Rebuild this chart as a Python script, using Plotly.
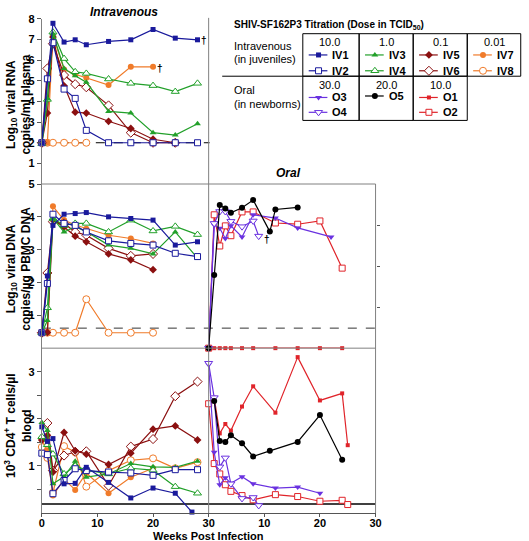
import plotly.graph_objects as go

W, H = 529, 541

# ---------------- data ----------------
# Intravenous: log10 viral RNA copies/ml plasma
iv1_rna_wk = [0, 2, 4, 6, 8, 12, 16, 20, 24, 28]
iv1_rna = [2.0, 7.79, 6.88, 6.99, 6.75, 6.91, 6.99, 7.49, 7.07, 6.99]
iv2_rna_wk = [0, 1, 2, 4, 6, 8, 12, 16, 20, 24, 28]
iv2_rna = [2.0, 5.1, 6.85, 4.6, 4.15, 2.6, 2.0, 2.0, 2.0, 2.0, 2.0]
iv3_rna_wk = [0, 1, 2, 4, 6, 8, 12, 16, 20, 24, 28]
iv3_rna = [1.96, 4.13, 7.28, 5.6, 5.25, 4.93, 3.52, 3.44, 2.49, 2.37, 2.92]
iv4_rna_wk = [0, 1, 2, 4, 6, 8, 12, 16, 20, 24, 28]
iv4_rna = [1.96, 4.1, 7.36, 6.08, 5.44, 5.36, 5.09, 4.88, 4.77, 4.48, 4.88]
iv5_rna_wk = [0, 1, 2, 4, 6, 8, 12, 16, 20, 24]
iv5_rna = [2.0, 3.44, 7.12, 4.76, 3.48, 3.44, 3.04, 2.69, 2.17, 2.0]
iv6_rna_wk = [0, 1, 2, 4, 6, 8, 12, 16, 20, 24]
iv6_rna = [2.0, 5.6, 6.8, 5.28, 4.84, 4.69, 3.81, 2.49, 2.0, 2.0]
iv7_rna_wk = [0, 1, 2, 4, 6, 8, 12, 16, 20]
iv7_rna = [2.0, 2.0, 7.2, 5.55, 5.32, 5.15, 4.8, 5.68, 5.68]
iv8_rna_wk = [0, 1, 2, 4, 6, 8]
iv8_rna = [2.0, 2.0, 2.0, 2.0, 2.0, 2.0]

# Intravenous: log10 viral DNA copies/ug PBMC DNA
iv1_dna_wk = [0, 1, 2, 4, 6, 8, 12, 16, 20, 24, 28]
iv1_dna = [0.47, 2.2, 3.74, 4.08, 4.1, 4.13, 4.0, 3.95, 3.9, 3.14, 3.24]
iv2_dna_wk = [0, 1, 2, 4, 6, 8, 12, 16, 20, 24, 28]
iv2_dna = [0.47, 1.97, 4.08, 3.8, 3.74, 3.54, 3.27, 3.19, 3.14, 2.89, 2.79]
iv3_dna_wk = [0, 1, 2, 4, 6, 8, 12, 16, 20, 24, 28]
iv3_dna = [0.47, 0.84, 3.95, 3.54, 3.7, 3.55, 3.14, 3.04, 2.87, 3.54, 2.74]
iv4_dna_wk = [0, 1, 2, 4, 6, 8, 12, 16, 20, 24, 28]
iv4_dna = [0.47, 1.23, 3.95, 3.74, 3.8, 3.8, 3.54, 3.9, 3.57, 3.71, 3.46]
iv5_dna_wk = [0, 1, 2, 4, 6, 8, 12, 16, 20]
iv5_dna = [0.47, 0.48, 3.9, 3.69, 3.41, 3.24, 2.87, 2.69, 2.39]
iv6_dna_wk = [0, 1, 2, 4, 6, 8, 12, 16, 20]
iv6_dna = [0.47, 2.29, 3.85, 3.8, 3.54, 3.44, 3.04, 2.81, 2.87]
iv7_dna_wk = [0, 1, 2, 4, 6, 8, 12, 16, 20]
iv7_dna = [0.47, 0.47, 4.32, 3.9, 3.75, 3.64, 3.44, 3.34, 3.19]
iv8_dna_wk = [0, 1, 2, 4, 6, 8, 12, 16, 20]
iv8_dna = [0.47, 0.47, 0.47, 0.47, 0.47, 1.49, 0.47, 0.47, 0.47]

# Oral: viral DNA (right-hand scale 0-4)
o1_dna_wk = [0, 1, 2, 3, 4, 6, 8, 12, 16, 20, 24]
o1_dna = [0, 0, 0, 0, 0, 0, 0, 0, 0, 0, 0]
o2_dna_wk = [0, 1, 2, 3, 4, 6, 8, 12, 16, 20, 24]
o2_dna = [0, 3.25, 2.49, 2.98, 2.74, 3.32, 3.32, 3.05, 3.02, 3.1, 1.95]
o3_dna_wk = [0, 1, 2, 3, 4, 6, 8, 12, 16, 22]
o3_dna = [0, 3.0, 2.92, 2.67, 2.98, 2.71, 3.25, 3.17, 2.93, 2.71]
o4_dna_wk = [0, 1, 2, 3, 4, 6, 8, 9]
o4_dna = [0, 3.04, 3.33, 3.33, 3.09, 2.96, 3.1, 2.73]
o5_dna_wk = [0, 1, 2, 3, 4, 6, 8, 11, 12, 16]
o5_dna = [0, 1.78, 3.49, 3.4, 3.3, 3.42, 3.61, 2.84, 3.38, 3.43]

# CD4+ T cells (10^3 / ul blood)
iv1_cd4_wk = [0, 1, 2, 4, 6, 8, 12, 16, 20, 24, 27]
iv1_cd4 = [1.83, 1.52, 1.58, 0.62, 0.63, 0.97, 0.65, 0.32, 0.53, 0.42, 0.02]
iv2_cd4_wk = [0, 1, 2, 4, 6, 8, 12, 16, 20, 24, 28]
iv2_cd4 = [1.27, 1.24, 0.41, 0.69, 0.94, 0.9, 0.87, 0.85, 0.8, 0.92, 0.92]
iv3_cd4_wk = [0, 1, 2, 4, 6, 8, 12, 16, 20, 24, 28]
iv3_cd4 = [1.92, 1.75, 0.62, 0.77, 1.1, 0.76, 0.83, 1.05, 0.98, 0.97, 1.1]
iv4_cd4_wk = [0, 1, 2, 4, 6, 8, 12, 16, 20, 24, 28]
iv4_cd4 = [1.62, 1.45, 1.25, 0.83, 1.0, 0.91, 0.83, 0.95, 0.91, 0.56, 0.42]
iv5_cd4_wk = [0, 1, 2, 4, 6, 8, 12, 16, 20, 24, 28]
iv5_cd4 = [1.55, 1.65, 0.87, 1.71, 1.32, 1.25, 1.03, 1.27, 1.78, 1.85, 1.55]
iv6_cd4_wk = [1, 2, 4, 6, 8, 12, 16, 20, 24, 28]
iv6_cd4 = [1.91, 0.9, 1.22, 1.3, 1.31, 0.58, 1.41, 1.57, 2.48, 2.79]
iv7_cd4_wk = [0, 1, 2, 4, 6, 8, 12, 16, 20]
iv7_cd4 = [1.55, 1.33, 0.37, 0.72, 0.49, 0.85, 0.42, 0.76, 0.95]
iv8_cd4_wk = [0, 1, 2, 4, 6, 8, 12, 16, 20, 24, 28]
iv8_cd4 = [1.4, 1.17, 0.43, 1.42, 1.29, 0.56, 0.9, 1.12, 1.16, 0.95, 1.08]

o1_cd4_wk = [1, 2, 3, 4, 6, 8, 12, 16, 20, 24, 25]
o1_cd4 = [2.45, 1.69, 1.89, 1.75, 2.26, 2.69, 2.13, 3.31, 2.39, 2.54, 1.44]
o2_cd4_wk = [0, 1, 2, 3, 4, 6, 8, 12, 16, 20, 24, 25]
o2_cd4 = [2.32, 1.05, 0.83, 0.6, 0.46, 0.37, 0.28, 0.39, 0.35, 0.25, 0.27, 0.18]
o3_cd4_wk = [0, 1, 2, 3, 4, 6, 8, 12, 16, 20]
o3_cd4 = [3.15, 1.29, 0.6, 0.75, 0.63, 0.77, 0.62, 0.53, 0.55, 0.42]
o4_cd4_wk = [0, 1, 2, 3, 4, 6, 8, 9]
o4_cd4 = [3.18, 2.45, 0.98, 1.17, 0.62, 0.31, 0.33, 0.16]
o5_cd4_wk = [1, 2, 3, 4, 6, 8, 11, 16, 20, 24]
o5_cd4 = [2.38, 1.53, 1.51, 1.65, 1.48, 1.2, 1.32, 1.51, 2.08, 1.13]

# thresholds
rna_cutoff = 2.0
dna_cutoff = 0.61
cd4_line = 0.19

# legend table text
doses_iv = ["10.0", "1.0", "0.1", "0.01"]
doses_oral = ["30.0", "20.0", "10.0"]
legend_iv = [["IV1", "IV2"], ["IV3", "IV4"], ["IV5", "IV6"], ["IV7", "IV8"]]
legend_oral = [["O3", "O4"], ["O5"], ["O1", "O2"]]

# ---------------- styling ----------------
BLUE = "#1a1a9c"
GREEN = "#22a02a"
DRED = "#8b1010"
ORANGE = "#f07b2a"
PURPLE = "#6a32e0"
BLACK = "#000000"
RED = "#e0242a"

styles = {
    "IV1": (BLUE, "square", False, 5), "IV2": (BLUE, "square", True, 6),
    "IV3": (GREEN, "triangle-up", False, 6), "IV4": (GREEN, "triangle-up", True, 7),
    "IV5": (DRED, "diamond", False, 6), "IV6": (DRED, "diamond", True, 7),
    "IV7": (ORANGE, "circle", False, 6), "IV8": (ORANGE, "circle", True, 7),
    "O1": (RED, "square", False, 4), "O2": (RED, "square", True, 6),
    "O3": (PURPLE, "triangle-down", False, 6), "O4": (PURPLE, "triangle-down", True, 7),
    "O5": (BLACK, "circle", False, 6),
}

FONT = "Arial, Liberation Sans, sans-serif"
AXC = "#808080"

def X(p):
    return p / W

def Y(p):
    return 1 - p / H

XL0, XMID, XR1 = 39.5, 209.2, 379.0
YT, YA, YB, YBOT = 13.1, 180.0, 346.0, 512.7

fig = go.Figure()

def marker_for(name):
    c, sym, op, sz = styles[name]
    if op:
        return dict(symbol=sym, size=sz, color="white", line=dict(color=c, width=1))
    return dict(symbol=sym, size=sz, color=c, line=dict(width=0))

def add(name, wk, vals, xa, ya):
    c = styles[name][0]
    fig.add_trace(go.Scatter(x=wk, y=vals, xaxis=xa, yaxis=ya, mode="lines+markers",
                             line=dict(color=c, width=1.2), marker=marker_for(name),
                             showlegend=False, cliponaxis=False, hoverinfo="skip"))

rna = {"IV8": (iv8_rna_wk, iv8_rna), "IV7": (iv7_rna_wk, iv7_rna), "IV6": (iv6_rna_wk, iv6_rna),
       "IV5": (iv5_rna_wk, iv5_rna), "IV4": (iv4_rna_wk, iv4_rna), "IV3": (iv3_rna_wk, iv3_rna),
       "IV2": (iv2_rna_wk, iv2_rna), "IV1": (iv1_rna_wk, iv1_rna)}
dna = {"IV8": (iv8_dna_wk, iv8_dna), "IV7": (iv7_dna_wk, iv7_dna), "IV6": (iv6_dna_wk, iv6_dna),
       "IV5": (iv5_dna_wk, iv5_dna), "IV4": (iv4_dna_wk, iv4_dna), "IV3": (iv3_dna_wk, iv3_dna),
       "IV2": (iv2_dna_wk, iv2_dna), "IV1": (iv1_dna_wk, iv1_dna)}
cd4 = {"IV8": (iv8_cd4_wk, iv8_cd4), "IV7": (iv7_cd4_wk, iv7_cd4), "IV6": (iv6_cd4_wk, iv6_cd4),
       "IV5": (iv5_cd4_wk, iv5_cd4), "IV4": (iv4_cd4_wk, iv4_cd4), "IV3": (iv3_cd4_wk, iv3_cd4),
       "IV2": (iv2_cd4_wk, iv2_cd4), "IV1": (iv1_cd4_wk, iv1_cd4)}
odna = {"O1": (o1_dna_wk, o1_dna), "O2": (o2_dna_wk, o2_dna), "O3": (o3_dna_wk, o3_dna),
        "O4": (o4_dna_wk, o4_dna), "O5": (o5_dna_wk, o5_dna)}
ocd4 = {"O1": (o1_cd4_wk, o1_cd4), "O2": (o2_cd4_wk, o2_cd4), "O3": (o3_cd4_wk, o3_cd4),
        "O4": (o4_cd4_wk, o4_cd4), "O5": (o5_cd4_wk, o5_cd4)}

for k, (w, v) in rna.items():
    add(k, w, v, "x", "y")
for k, (w, v) in dna.items():
    add(k, w, v, "x", "y2")
for k, (w, v) in cd4.items():
    add(k, w, v, "x", "y3")
for k, (w, v) in odna.items():
    add(k, w, v, "x2", "y4")
for k, (w, v) in ocd4.items():
    add(k, w, v, "x2", "y3")

# legend glyphs on a pixel overlay axis
col_left = [305.0, 362.3, 417.3, 472.3]
row_iv_y = [49.5, 65.5]
row_or_y = [92.5, 107.5]

def glyph(name, cx, cy):
    c = styles[name][0]
    fig.add_trace(go.Scatter(x=[cx + 6, cx + 16, cx + 25], y=[cy, cy, cy], xaxis="x9", yaxis="y9",
                             mode="lines", line=dict(color=c, width=1.2), showlegend=False,
                             hoverinfo="skip"))
    m = marker_for(name)
    fig.add_trace(go.Scatter(x=[cx + 16], y=[cy], xaxis="x9", yaxis="y9", mode="markers",
                             marker=m, showlegend=False, hoverinfo="skip", cliponaxis=False))

annotations = []

def txt(s, x, y, size=11, bold=False, italic=False, xanchor="left", angle=0, color="black"):
    if bold:
        s = "<b>" + s + "</b>"
    if italic:
        s = "<i>" + s + "</i>"
    annotations.append(dict(text=s, x=X(x), y=Y(y), xref="paper", yref="paper", showarrow=False,
                            xanchor=xanchor, yanchor="middle", textangle=angle,
                            font=dict(family=FONT, size=size, color=color)))

for ci, names in enumerate(legend_iv):
    cx = col_left[ci]
    txt(doses_iv[ci], cx + 27.5, 36.5, xanchor="center")
    for ri, n in enumerate(names):
        glyph(n, cx, row_iv_y[ri])
        txt(n, cx + 28, row_iv_y[ri], bold=True)
for ci, names in enumerate(legend_oral):
    cx = col_left[ci]
    txt(doses_oral[ci], cx + 27.5, 80, xanchor="center")
    for ri, n in enumerate(names):
        yy = row_or_y[ri] - (1.5 if len(names) == 1 else 0)
        glyph(n, cx, yy)
        txt(n, cx + 28, yy, bold=True)

txt("SHIV-SF162P3 Titration (Dose in TCID<sub>50</sub>)", 233, 19, size=10, bold=True)
txt("Intravenous", 233, 40)
txt("(in juveniles)", 233, 54)
txt("Oral", 233, 85)
txt("(in newborns)", 233, 99)

# panel titles
txt("Intravenous", 123, 6.5, size=12, bold=True, italic=True, xanchor="center")
txt("Oral", 290, 169, size=12, bold=True, italic=True, xanchor="center")
txt("Weeks Post Infection", 209, 535.5, size=11, bold=True, xanchor="center")

# y-axis titles (two lines each)
txt("Log<sub>10</sub> viral RNA<br>copies/ml plasma", 16, 100, size=12, bold=True,
    xanchor="center", angle=-90)
txt("Log<sub>10</sub> viral DNA<br>copies/µg PBMC DNA", 16, 266, size=12, bold=True,
    xanchor="center", angle=-90)
txt("10<sup>3</sup> CD4<sup>+</sup> T cells/µl<br>blood", 16, 424, size=12, bold=True,
    xanchor="center", angle=-90)

# daggers
txt("†", 199, 35, size=10, bold=True)
txt("†", 155, 63, size=10, bold=True)
txt("†", 263, 236, size=10, bold=True)

shapes = []

def pline(x0, y0, x1, y1, color=AXC, width=1, dash="solid", layer="above"):
    shapes.append(dict(type="line", xref="paper", yref="paper", x0=X(x0), y0=Y(y0), x1=X(x1), y1=Y(y1),
                       line=dict(color=color, width=width, dash=dash), layer=layer))

pline(XMID, 12, XMID, YBOT)
pline(XR1, YA, XR1, YBOT)
pline(XL0, YA, XR1, YA)
pline(XL0, YB, XR1, YB)

shapes.append(dict(type="line", xref="paper", yref="y", x0=X(XL0), x1=X(XMID + 1), y0=rna_cutoff, y1=rna_cutoff,
                   line=dict(color="black", width=1, dash="dash"), layer="below"))
shapes.append(dict(type="line", xref="paper", yref="y2", x0=X(XL0), x1=X(XR1), y0=dna_cutoff, y1=dna_cutoff,
                   line=dict(color="#333333", width=1, dash="dash"), layer="below"))
shapes.append(dict(type="line", xref="paper", yref="y3", x0=X(XL0), x1=X(XR1), y0=cd4_line, y1=cd4_line,
                   line=dict(color="black", width=1.5), layer="below"))

# legend table
for i in range(4):
    shapes.append(dict(type="rect", xref="paper", yref="paper", x0=X(col_left[i]),
                       x1=X(col_left[i + 1] if i < 3 else 526.7), y0=Y(28), y1=Y(71),
                       line=dict(color="black", width=1)))
for i in range(3):
    shapes.append(dict(type="rect", xref="paper", yref="paper", x0=X(col_left[i]),
                       x1=X(col_left[i + 1]), y0=Y(71), y1=Y(115.7),
                       line=dict(color="black", width=1)))
pline(223, 71, 305, 71, color="black")

tickf = dict(family=FONT, size=11, color="black", weight="bold")
common_x = dict(range=[0, 30], showgrid=False, zeroline=False, showline=True, linecolor="#555555",
                ticks="outside", ticklen=3, tickcolor="#555555", tickfont=tickf, anchor="y3",
                ticklabelstandoff=-3)
common_y = dict(showgrid=False, zeroline=False, showline=True, linecolor=AXC, ticks="outside",
                ticklen=4, tickcolor="#555555", tickfont=tickf, anchor="x")

fig.update_layout(
    width=W, height=H, margin=dict(l=0, r=0, t=0, b=0),
    paper_bgcolor="white", plot_bgcolor="rgba(0,0,0,0)",
    showlegend=False,
    xaxis=dict(domain=[X(XL0), X(XMID)], tickvals=[0, 10, 20, 30], **common_x),
    xaxis2=dict(domain=[X(XMID), X(XR1)], tickvals=[10, 20, 30], **common_x),
    yaxis=dict(domain=[Y(YA), Y(YT)], range=[0, 8], tickvals=[1, 2, 3, 4, 5, 6, 7, 8], **common_y),
    yaxis2=dict(domain=[Y(YB), Y(YA)], range=[0, 5], tickvals=[1, 2, 3, 4, 5], **common_y),
    yaxis3=dict(domain=[Y(YBOT), Y(YB)], range=[0, 3.5], tickvals=[1, 2, 3],
                minor=dict(tickvals=[0.5, 1.5, 2.5], ticks="outside", ticklen=4, tickcolor="#555555"),
                **common_y),
    yaxis4=dict(domain=[Y(YB), Y(YA)], range=[0, 4], anchor="x2", side="right", tickvals=[1, 2, 3],
                showticklabels=False, showgrid=False, zeroline=False, showline=False,
                ticks="outside", ticklen=3, tickcolor="#555555"),
    xaxis9=dict(domain=[0, 1], range=[0, W], visible=False, anchor="y9", fixedrange=True),
    yaxis9=dict(domain=[0, 1], range=[H, 0], visible=False, anchor="x9", fixedrange=True),
    annotations=annotations, shapes=shapes,
)

fig.write_html("out.html", config={"displayModeBar": False, "responsive": False},
               post_script="document.body.style.margin='0';document.body.style.overflow='hidden';")
